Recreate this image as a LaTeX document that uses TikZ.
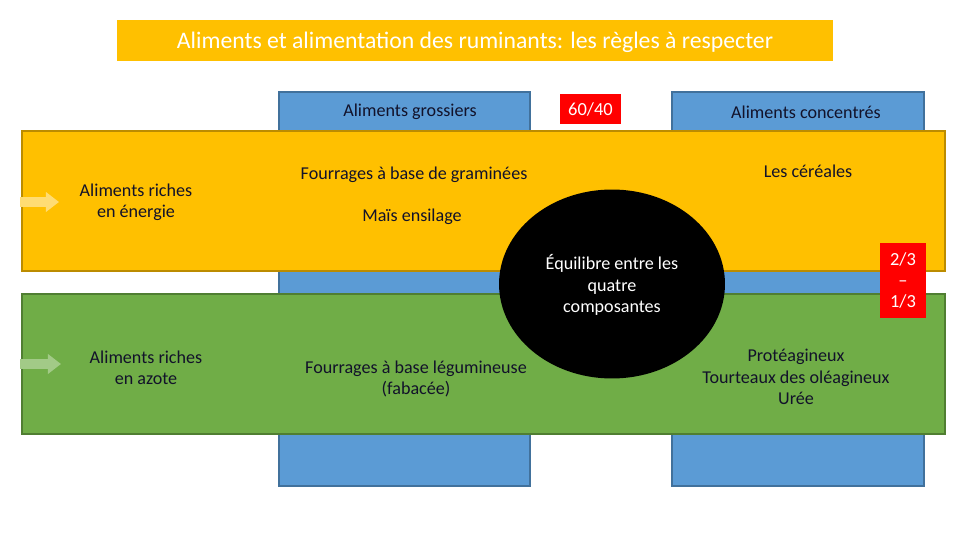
\documentclass[tikz,border=0pt]{standalone}
\usepackage{fontspec}
\setmainfont{Carlito}
\usetikzlibrary{arrows.meta, positioning, shapes.geometric}
\definecolor{gold}{HTML}{FFC000}
\definecolor{goldline}{HTML}{BC8C00}
\definecolor{leaf}{HTML}{70AD47}
\definecolor{leafline}{HTML}{507E32}
\definecolor{sky}{HTML}{5B9BD5}
\definecolor{skyline}{HTML}{41719C}
\definecolor{tagred}{HTML}{FF0000}
\definecolor{ink}{HTML}{12122A}

\begin{document}
\begin{tikzpicture}[x=0.02cm, y=-0.02cm,
  col/.style={rectangle, draw=skyline, fill=sky, line width=0.8pt,
              minimum height=7.88cm, inner sep=0pt},
  band/.style={rectangle, line width=0.8pt, minimum width=18.46cm,
               minimum height=2.8cm, inner sep=0pt},
  lbl/.style={align=center, text=ink, inner sep=0pt,
              font=\fontsize{10.3}{12.2}\selectfont},
  wlbl/.style={lbl, text=white},
  tag/.style={rectangle, fill=tagred, text=white, align=center, inner sep=0pt,
              font=\fontsize{10.5}{12}\selectfont},
  hint/.style={-{Triangle[width=11pt, length=7.5pt]}, line width=5.5pt},
]
  \useasboundingbox (0,0) rectangle (960,540);

  % title
  \node[rectangle, fill=gold, minimum width=14.32cm, minimum height=0.82cm,
        text depth=0pt, text=white, font=\fontsize{13.5}{16}\selectfont]
    (title) at (475,40.5)
    {Aliments et alimentation des ruminants: les règles à respecter};

  % columns
  \node[col, minimum width=5.02cm] (grossiers) at (404.5,289) {};
  \node[col, minimum width=5.04cm] (concentres) at (798,289) {};

  % bands
  \node[band, draw=goldline, fill=gold] (energie) at (483.5,201) {};
  \node[band, draw=leafline, fill=leaf] (azote) at (483.5,364) {};

  % centre
  \node[ellipse, fill=black, minimum width=4.52cm, minimum height=3.78cm,
        inner sep=0pt] (equilibre) at (612,284) {};

  % tags
  \node[tag, minimum width=1.22cm, minimum height=0.6cm] (ratioA) at (590.5,109) {60/40};
  \node[tag, minimum width=0.92cm, minimum height=1.5cm] (ratioB) at (903,280.5)
    {2/3\\–\\1/3};

  % hints
  \coordinate (ea) at (20,202);
  \coordinate (eb) at (59,202);
  \coordinate (aa) at (20,364);
  \coordinate (ab) at (61,364);
  \draw[hint, draw=gold!55!white, fill=gold!55!white] (ea) -- (eb);
  \draw[hint, draw=leaf!65!white, fill=leaf!65!white] (aa) -- (ab);

  % labels
  \node[lbl] (t1) at (410,112) {Aliments grossiers};
  \node[lbl] (t2) at (806,112) {Aliments concentrés};
  \node[lbl] (t3) at (136,202) {Aliments riches\\en énergie};
  \node[lbl] (t4) at (146,368) {Aliments riches\\en azote};
  \node[lbl] (t5) at (414,175) {Fourrages à base de graminées};
  \node[lbl] (t6) at (412,217) {Maïs ensilage};
  \node[lbl] (t7) at (808,171) {Les céréales};
  \node[wlbl] (t8) at (612,285) {Équilibre entre les\\quatre\\composantes};
  \node[lbl] (t9) at (416,379) {Fourrages à base légumineuse\\(fabacée)};
  \node[lbl] (t10) at (796,377) {Protéagineux\\Tourteaux des oléagineux\\Urée};
\end{tikzpicture}
\end{document}
